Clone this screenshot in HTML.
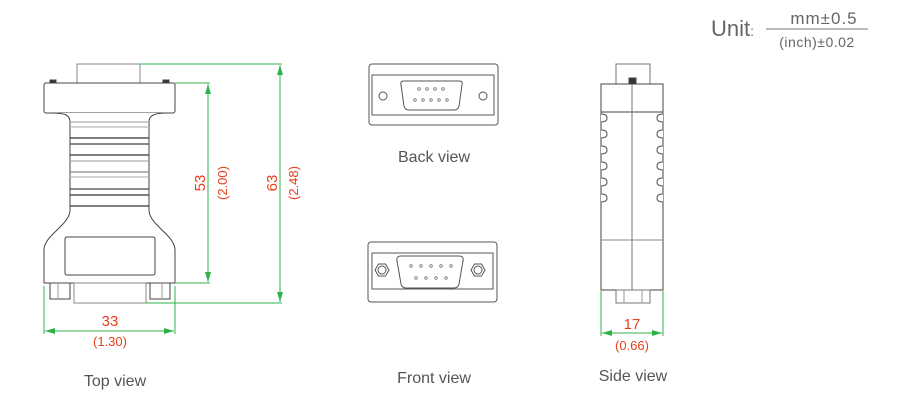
<!DOCTYPE html>
<html><head><meta charset="utf-8"><style>
html,body{margin:0;padding:0;background:#fff;}
svg{display:block;}
text{font-family:"Liberation Sans",sans-serif;}
</style></head><body>
<svg width="900" height="400" viewBox="0 0 900 400" xmlns="http://www.w3.org/2000/svg">
<defs>
<marker id="a" viewBox="0 0 10 6" refX="10" refY="3" markerWidth="10" markerHeight="6" orient="auto-start-reverse" markerUnits="userSpaceOnUse"><path d="M0,0L10,3L0,6z" fill="#2db34a"/></marker>
</defs>
<!-- Unit -->
<text x="711" y="36" font-size="22" fill="#666">Unit<tspan font-size="14">:</tspan></text>
<text x="824" y="24" font-size="17" fill="#666" text-anchor="middle" letter-spacing="1">mm±0.5</text>
<line x1="766" y1="29" x2="868" y2="29" stroke="#777" stroke-width="1"/>
<text x="817" y="47" font-size="14" fill="#666" text-anchor="middle" letter-spacing="0.5">(inch)±0.02</text>

<g fill="#fff" stroke="#444" stroke-width="1">
<!-- TOP VIEW -->
<rect x="77" y="64" width="63" height="19" stroke="#888"/>
<rect x="50" y="80" width="6" height="4" fill="#333"/>
<rect x="163" y="80" width="6" height="4" fill="#333"/>
<rect x="44" y="83" width="131" height="30" rx="2"/>
<path d="M52,113 C65,113 70,115 70,122 L70,210 C70,225 44,235 44,250 L44,283 L175,283 L175,250 C175,235 149,225 149,210 L149,122 C149,115 155,113 167,113" />
<rect x="65" y="237" width="90" height="38" rx="2"/>
<rect x="74" y="283" width="72" height="20" stroke="#888"/>
<rect x="50" y="283" width="20" height="16"/>
<rect x="150" y="283" width="20" height="16"/>
<line x1="58" y1="283" x2="58" y2="299" stroke="#999"/>
<line x1="162" y1="283" x2="162" y2="299" stroke="#999"/>
</g>
<g stroke-width="1.3">
<line x1="70" y1="122" x2="149" y2="122" stroke="#aaa"/>
<line x1="70" y1="127" x2="149" y2="127" stroke="#bbb"/>
<line x1="70" y1="138" x2="149" y2="138" stroke="#333"/>
<line x1="70" y1="144" x2="149" y2="144" stroke="#444"/>
<line x1="70" y1="155" x2="149" y2="155" stroke="#333"/>
<line x1="70" y1="161" x2="149" y2="161" stroke="#aaa"/>
<line x1="70" y1="172" x2="149" y2="172" stroke="#888"/>
<line x1="70" y1="177" x2="149" y2="177" stroke="#bbb"/>
<line x1="70" y1="189" x2="149" y2="189" stroke="#444"/>
<line x1="70" y1="195" x2="149" y2="195" stroke="#333"/>
<line x1="70" y1="206" x2="149" y2="206" stroke="#333"/>
</g>
<!-- dimensions -->
<g stroke="#2db34a" stroke-width="1" fill="none">
<line x1="140" y1="64" x2="282" y2="64"/>
<line x1="175" y1="83" x2="210" y2="83"/>
<line x1="175" y1="283" x2="210" y2="283"/>
<line x1="146" y1="303" x2="282" y2="303"/>
<line x1="208" y1="84" x2="208" y2="282" marker-start="url(#a)" marker-end="url(#a)"/>
<line x1="280" y1="65" x2="280" y2="302" marker-start="url(#a)" marker-end="url(#a)"/>
<line x1="44" y1="286" x2="44" y2="334"/>
<line x1="175" y1="286" x2="175" y2="334"/>
<line x1="45" y1="331" x2="174" y2="331" marker-start="url(#a)" marker-end="url(#a)"/>
<line x1="601" y1="291" x2="601" y2="336"/>
<line x1="663" y1="291" x2="663" y2="336"/>
<line x1="602" y1="333" x2="662" y2="333" marker-start="url(#a)" marker-end="url(#a)"/>
</g>
<g fill="#e8401c" font-size="15">
<text transform="translate(205,183) rotate(-90)" text-anchor="middle">53</text>
<text transform="translate(227,183) rotate(-90)" text-anchor="middle" font-size="13">(2.00)</text>
<text transform="translate(277,183) rotate(-90)" text-anchor="middle">63</text>
<text transform="translate(298,183) rotate(-90)" text-anchor="middle" font-size="13">(2.48)</text>
<text x="110" y="326" text-anchor="middle">33</text>
<text x="110" y="346" text-anchor="middle" font-size="13">(1.30)</text>
<text x="632" y="329" text-anchor="middle">17</text>
<text x="632" y="350" text-anchor="middle" font-size="13">(0.66)</text>
</g>

<!-- BACK VIEW -->
<g fill="none" stroke="#555" stroke-width="1">
<rect x="369" y="64" width="129" height="61" rx="3"/>
<rect x="372" y="75" width="122" height="40"/>
<path d="M404,81 L459,81 Q463,81 462,85 L459,106 Q458,110 454,110 L409,110 Q405,110 404,106 L401,85 Q400,81 404,81z"/>
<circle cx="383" cy="96" r="4"/>
<circle cx="483" cy="96" r="4"/>
</g>
<g fill="none" stroke="#777" stroke-width="0.8">
<circle cx="419" cy="89" r="1.3"/><circle cx="427" cy="89" r="1.3"/><circle cx="435" cy="89" r="1.3"/><circle cx="443" cy="89" r="1.3"/>
<circle cx="415" cy="100" r="1.3"/><circle cx="423" cy="100" r="1.3"/><circle cx="431" cy="100" r="1.3"/><circle cx="439" cy="100" r="1.3"/><circle cx="447" cy="100" r="1.3"/>
</g>
<text x="434" y="162" font-size="16" fill="#555" text-anchor="middle">Back view</text>

<!-- FRONT VIEW -->
<g fill="none" stroke="#555" stroke-width="1">
<rect x="368" y="242" width="129" height="60" rx="3"/>
<rect x="372" y="253" width="121" height="36"/>
<path d="M401,256 L459,256 Q464,256 463,261 L459,284 Q458,288 454,288 L406,288 Q402,288 401,284 L397,261 Q396,256 401,256z"/>
<polygon points="375,270 378.5,264 385.5,264 389,270 385.5,276 378.5,276"/>
<circle cx="382" cy="270" r="4"/>
<polygon points="471,270 474.5,264 481.5,264 485,270 481.5,276 474.5,276"/>
<circle cx="478" cy="270" r="4"/>
</g>
<g fill="none" stroke="#777" stroke-width="0.8">
<circle cx="411" cy="266" r="1.3"/><circle cx="421" cy="266" r="1.3"/><circle cx="431" cy="266" r="1.3"/><circle cx="441" cy="266" r="1.3"/><circle cx="451" cy="266" r="1.3"/>
<circle cx="416" cy="278" r="1.3"/><circle cx="426" cy="278" r="1.3"/><circle cx="436" cy="278" r="1.3"/><circle cx="446" cy="278" r="1.3"/>
</g>
<text x="434" y="383" font-size="16" fill="#555" text-anchor="middle">Front view</text>

<!-- SIDE VIEW -->
<g fill="#fff" stroke="#444" stroke-width="1">
<rect x="616" y="64" width="34" height="20" stroke="#777"/>
<rect x="629" y="78" width="7" height="6" fill="#333"/>
<rect x="601" y="84" width="62" height="206"/>
<line x1="601" y1="112" x2="663" y2="112"/>
<line x1="601" y1="240" x2="663" y2="240" stroke="#888"/>
<line x1="632" y1="84" x2="632" y2="290" stroke="#777"/>
<rect x="616" y="290" width="34" height="13" stroke="#777"/>
<line x1="624" y1="290" x2="624" y2="303" stroke="#999"/>
<line x1="642" y1="290" x2="642" y2="303" stroke="#999"/>
</g>
<g fill="#fff" stroke="#555" stroke-width="1">
<path d="M601,114 q6,0 6,4 q0,4 -6,4 M601,130 q6,0 6,4 q0,4 -6,4 M601,146 q6,0 6,4 q0,4 -6,4 M601,162 q6,0 6,4 q0,4 -6,4 M601,178 q6,0 6,4 q0,4 -6,4 M601,194 q6,0 6,4 q0,4 -6,4"/>
<path d="M663,114 q-6,0 -6,4 q0,4 6,4 M663,130 q-6,0 -6,4 q0,4 6,4 M663,146 q-6,0 -6,4 q0,4 6,4 M663,162 q-6,0 -6,4 q0,4 6,4 M663,178 q-6,0 -6,4 q0,4 6,4 M663,194 q-6,0 -6,4 q0,4 6,4"/>
</g>
<text x="633" y="381" font-size="16" fill="#555" text-anchor="middle">Side view</text>
<text x="115" y="386" font-size="16" fill="#555" text-anchor="middle">Top view</text>
</svg>
</body></html>
